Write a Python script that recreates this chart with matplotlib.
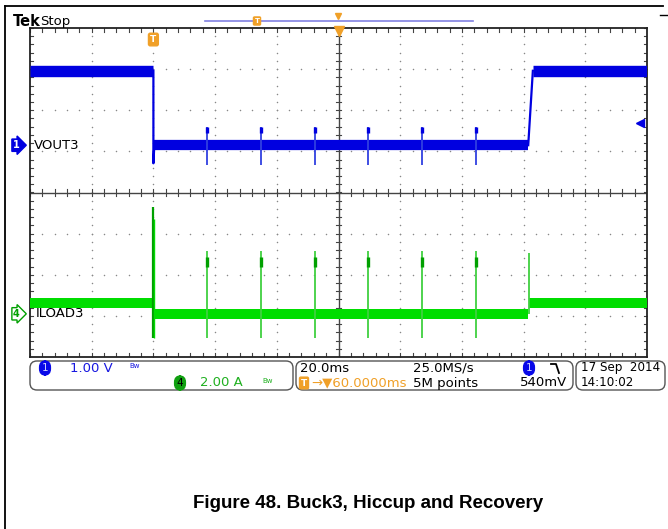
import numpy as np
import matplotlib
matplotlib.use("Agg")
from matplotlib import pyplot as plt
from matplotlib.patches import FancyBboxPatch
from matplotlib.lines import Line2D

# scope settings
ms_per_div = 20.0
volts_per_div = 1.0   # ch1 VOUT3
amps_per_div = 2.0    # ch4 ILOAD3
ch1_offset_div = 1.15
ch4_offset_div = -2.95
trig_level_v = 0.54

# event times (ms from left edge of screen)
t_drop = 40.0
hiccup_t = [57.4, 74.9, 92.4, 109.6, 127.1, 144.6]
t_recover = [161.5, 163.0]

# VOUT3 (V)
vout_high = 1.81
vout_low = 0.0
vout_drop_min = -0.44
vout_spike_hi = 0.44
vout_spike_lo = -0.49

# ILOAD3 (A)
iload_before = 0.54
iload_low = 0.0
iload_after = 0.55
iload_drop_hi, iload_drop_lo = 5.2, -1.17
iload_spike_hi, iload_spike_lo = 3.07, -1.2
iload_recover_hi = 2.98

BLUE = '#0000e0'
GREEN = '#00dd00'
DKGREEN = '#00a000'
ORANGE = '#f0a028'

W, H = 668, 529
fig = plt.figure(figsize=(W / 100, H / 100), dpi=100)
inch = fig.dpi_scale_trans


def P(x, y):
    # pixel (from top-left) -> inches for dpi_scale_trans
    return x / 100.0, (H - y) / 100.0


def v2d(v):
    return v / volts_per_div + ch1_offset_div


def i2d(i):
    return i / amps_per_div + ch4_offset_div


# graticule axes
ax = fig.add_axes([30 / W, 1 - 357 / H, 617 / W, 329 / H])
ax.set_xlim(0, 10 * ms_per_div)
ax.set_ylim(-4, 4)
ax.set_xticks([])
ax.set_yticks([])
for s in ax.spines.values():
    s.set_linewidth(1.3)
    s.set_color('#222222')

# dotted grid
dy = np.arange(-4, 4.001, 0.2)
dx = np.arange(0, 200.001, 4)
for k in range(1, 10):
    if k == 5:
        continue
    ax.scatter(np.full(dy.size, k * 20.0), dy, s=1.2, color='#888888', lw=0, zorder=1)
for m in range(-3, 4):
    if m == 0:
        continue
    ax.scatter(dx, np.full(dx.size, float(m)), s=1.2, color='#888888', lw=0, zorder=1)

# center cross with minor ticks
ax.axhline(0, color='#444444', lw=1.0, zorder=1)
ax.axvline(100, color='#444444', lw=1.0, zorder=1)
for x in dx:
    ax.plot([x, x], [-0.08, 0.08], color='#444444', lw=0.8, zorder=1)
    ax.plot([x, x], [4, 3.9], color='#444444', lw=0.8, zorder=1)
    ax.plot([x, x], [-4, -3.9], color='#444444', lw=0.8, zorder=1)
for y in dy:
    ax.plot([99.2, 100.8], [y, y], color='#444444', lw=0.8, zorder=1)
    ax.plot([0, 1.1], [y, y], color='#444444', lw=0.8, zorder=1)
    ax.plot([198.9, 200], [y, y], color='#444444', lw=0.8, zorder=1)

# ---- VOUT3 trace ----
band_v = 8.2
ax.hlines(v2d(vout_high), 0, t_drop, color=BLUE, lw=band_v, zorder=3)
ax.hlines(v2d(vout_low), t_drop + 0.3, t_recover[0], color=BLUE, lw=band_v * 0.9, zorder=3)
ax.hlines(v2d(vout_high), t_recover[1], 200, color=BLUE, lw=band_v, zorder=3)
ax.plot([t_drop, t_drop, t_drop + 0.3], [v2d(vout_high), v2d(vout_drop_min), v2d(vout_low)],
        color=BLUE, lw=1.6, zorder=3)
ax.plot(t_recover, [v2d(vout_low), v2d(vout_high)], color=BLUE, lw=1.6, zorder=3)
for t in hiccup_t:
    ax.vlines(t, v2d(vout_spike_lo), v2d(vout_spike_hi), color='#3040e0', lw=1.3, zorder=4)
    ax.vlines(t, v2d(vout_spike_hi) - 0.15, v2d(vout_spike_hi), color=BLUE, lw=2.4, zorder=4)

# ---- ILOAD3 trace ----
band_i = 7.2
ax.hlines(i2d(iload_before), 0, t_drop, color=GREEN, lw=band_i, zorder=3)
ax.hlines(i2d(iload_low), t_drop + 0.3, t_recover[0], color=GREEN, lw=band_i, zorder=3)
ax.hlines(i2d(iload_after), t_recover[0] + 0.2, 200, color=GREEN, lw=band_i, zorder=3)
ax.vlines(t_drop, i2d(iload_drop_lo), i2d(iload_drop_hi), color=DKGREEN, lw=1.6, zorder=4)
ax.vlines(t_drop + 0.25, i2d(iload_drop_lo), i2d(iload_drop_hi) - 0.3, color=GREEN, lw=1.0, zorder=4)
for t in hiccup_t:
    ax.vlines(t, i2d(iload_spike_lo), i2d(iload_spike_hi), color='#40d040', lw=1.3, zorder=4)
    ax.vlines(t, i2d(iload_spike_hi) - 0.4, i2d(iload_spike_hi) - 0.15, color=DKGREEN, lw=2.4, zorder=4)
ax.vlines(t_recover[0] + 0.2, i2d(iload_low), i2d(iload_recover_hi), color='#40d040', lw=1.3, zorder=4)

# trigger level arrow, trigger position and T marker
ax.plot(197.6, v2d(trig_level_v), marker='<', ms=6, color=BLUE, zorder=5, clip_on=False)
ax.plot(100, 3.93, marker='v', ms=7, color=ORANGE, zorder=6, clip_on=False)
ax.text(t_drop, 3.72, 'T', color='white', fontsize=6.5, fontweight='bold', ha='center', va='center',
        zorder=6, bbox=dict(boxstyle='round,pad=0.2', fc=ORANGE, ec=ORANGE))

# channel ground markers and labels
ytr = ax.get_yaxis_transform()
ax.text(-0.022, ch1_offset_div, '1', transform=ytr, color='white', fontsize=7, fontweight='bold',
        ha='center', va='center', clip_on=False,
        bbox=dict(boxstyle='rarrow,pad=0.12', fc=BLUE, ec=BLUE))
ax.text(0.006, ch1_offset_div, 'VOUT3', transform=ytr, fontsize=9.5, ha='left', va='center')
ax.text(-0.022, ch4_offset_div, '4', transform=ytr, color=DKGREEN, fontsize=7, fontweight='bold',
        ha='center', va='center', clip_on=False,
        bbox=dict(boxstyle='rarrow,pad=0.12', fc='white', ec=DKGREEN, lw=1.0))
ax.text(0.009, ch4_offset_div, 'ILOAD3', transform=ytr, fontsize=9.5, ha='left', va='center')

# outer frame
fig.add_artist(Line2D([5 / W, 5 / W], [0, 1 - 6 / H], color='black', lw=1.3))
fig.add_artist(Line2D([5 / W, 663 / W], [1 - 6 / H, 1 - 6 / H], color='black', lw=1.3))
fig.add_artist(Line2D([660 / W, 668 / W], [1 - 15 / H, 1 - 15 / H], color='black', lw=1.0))

# header
fig.text(*P(13, 21), 'Tek', transform=inch, fontsize=10.5, fontweight='bold', va='center')
fig.text(*P(40, 21), 'Stop', transform=inch, fontsize=9.5, va='center')
fig.add_artist(Line2D([205 / W, 473 / W], [1 - 21 / H, 1 - 21 / H], color='#8080e0', lw=1.2))
fig.text(*P(257, 21), 'T', transform=inch, fontsize=5, color='white', fontweight='bold',
         ha='center', va='center', bbox=dict(boxstyle='round,pad=0.15', fc=ORANGE, ec=ORANGE))
fig.add_artist(Line2D([338 / W], [1 - 16 / H], marker='v', ms=5, color=ORANGE, lw=0))

# info boxes
for x0, x1 in [(30, 293), (296, 573), (576, 665)]:
    x, y = P(x0, 390)
    fig.add_artist(FancyBboxPatch((x, y), (x1 - x0) / 100, 0.29, transform=inch,
                                  boxstyle='round,pad=0,rounding_size=0.07',
                                  fc='white', ec='#555555', lw=1.0))

fs = 9.5
r1, r2 = 368, 383
fig.text(*P(45, r1), '1', transform=inch, fontsize=7.5, color='#d0d0ff', ha='center', va='center',
         bbox=dict(boxstyle='round,pad=0.2,rounding_size=0.6', fc='#0808e8', ec='#0808e8'))
fig.text(*P(70, r1), '1.00 V', transform=inch, fontsize=fs, color='#1818e0', va='center')
fig.text(*P(129, r1 - 2), 'Bw', transform=inch, fontsize=5, color='#1818e0', va='center')
fig.text(*P(180, r2), '4', transform=inch, fontsize=7.5, color='black', ha='center', va='center',
         bbox=dict(boxstyle='round,pad=0.2,rounding_size=0.6', fc='#10a010', ec='#10a010'))
fig.text(*P(200, r2), '2.00 A', transform=inch, fontsize=fs, color='#20b020', va='center')
fig.text(*P(262, r2 - 2), 'Bw', transform=inch, fontsize=5, color='#20b020', va='center')

fig.text(*P(300, r1), '20.0ms', transform=inch, fontsize=fs, va='center')
fig.text(*P(304, r2), 'T', transform=inch, fontsize=6.5, color='white', fontweight='bold',
         ha='center', va='center', bbox=dict(boxstyle='round,pad=0.15', fc=ORANGE, ec=ORANGE))
fig.text(*P(311, r2), '\u2192\u25bc60.0000ms', transform=inch, fontsize=fs, color=ORANGE, va='center')
fig.text(*P(413, r1), '25.0MS/s', transform=inch, fontsize=fs, va='center')
fig.text(*P(413, r2), '5M points', transform=inch, fontsize=fs, va='center')
fig.text(*P(529, r1), '1', transform=inch, fontsize=7.5, color='#d0d0ff', ha='center', va='center',
         bbox=dict(boxstyle='round,pad=0.2,rounding_size=0.6', fc='#0808e8', ec='#0808e8'))
ex = [551 / W, 556 / W, 559 / W]
ey = [1 - 364 / H, 1 - 364 / H, 1 - 373 / H]
fig.add_artist(Line2D(ex, ey, color='black', lw=1.3))
fig.text(*P(567, r2), '540mV', transform=inch, fontsize=fs, ha='right', va='center')

fig.text(*P(581, r1), '17 Sep  2014', transform=inch, fontsize=8.6, va='center')
fig.text(*P(581, r2), '14:10:02', transform=inch, fontsize=8.6, va='center')

# caption
fig.text(*P(368, 503), 'Figure 48. Buck3, Hiccup and Recovery', transform=inch,
         fontsize=13.5, fontweight='bold', family='Liberation Sans', ha='center', va='center')

fig.savefig('out.png', dpi=100)
